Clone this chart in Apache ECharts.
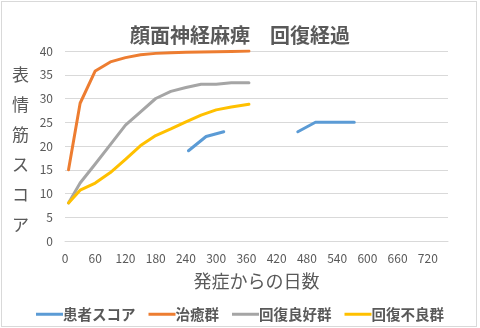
<!DOCTYPE html>
<html>
<head>
<meta charset="utf-8">
<script src="https://cdn.jsdelivr.net/npm/echarts@6/dist/echarts.min.js"></script>
<style>
  html, body { margin: 0; padding: 0; background: #fff; }
  #frame { position: absolute; left: 1px; top: 1px; width: 474px; height: 324px; border: 1px solid #d9d9d9; background: #fff; }
  #chart { position: absolute; left: -2px; top: -2px; width: 480px; height: 328px; }
</style>
</head>
<body>
<div id="frame"><div id="chart"></div></div>
<script>
// Facial nerve palsy: recovery of facial muscle score over days since onset
const seriesNames = ['患者スコア', '治癒群', '回復良好群', '回復不良群'];

// patient's own measurements (null separates the two visits)
const patientDays   = [245, 280, 315, 390, 462, 497, 574];
const patientScores = [19, 22, 23, null, 23, 25, 25];

// reference curves, shared time points
const groupDays = [7, 30, 60, 90, 120, 150, 180, 210, 240, 270, 300, 330, 365];
const curedScores = [15, 29, 35.8, 37.7, 38.6, 39.2, 39.5, 39.65, 39.75, 39.8, 39.85, 39.9, 40];
const goodScores  = [8, 12.2, 16.2, 20.3, 24.4, 27.2, 30, 31.5, 32.3, 33, 33, 33.3, 33.3];
const poorScores  = [8, 10.7, 12.2, 14.4, 17.2, 20.1, 22.2, 23.6, 25.1, 26.5, 27.6, 28.2, 28.8];

const colors = ['#5b9bd5', '#ed7d31', '#a5a5a5', '#ffc000'];
const FONT = '"Noto Sans CJK JP", "Noto Sans", sans-serif';

function pairs(xs, ys) {
  return xs.map((x, i) => [x, ys[i] === null ? '-' : ys[i]]);
}

const chart = echarts.init(document.getElementById('chart'), null, { renderer: 'canvas' });

const lineSeries = (name, data, color) => ({
  name: name,
  type: 'line',
  data: data,
  symbol: 'none',
  smooth: false,
  connectNulls: false,
  lineStyle: { color: color, width: 3, cap: 'round', join: 'round' },
  itemStyle: { color: color },
  emphasis: { disabled: true },
  animation: false
});

chart.setOption({
  animation: false,
  color: colors,
  textStyle: { fontFamily: FONT },
  title: {
    text: '顔面神経麻痺　回復経過',
    left: 'center',
    top: 20,
    textStyle: { fontFamily: FONT, fontSize: 20, fontWeight: 'bold', color: '#595959' }
  },
  grid: { left: 65, right: 32, top: 51, bottom: 87, containLabel: false },
  xAxis: {
    type: 'value',
    min: 0,
    max: 760,
    interval: 60,
    name: '発症からの日数',
    nameLocation: 'middle',
    nameGap: 31,
    nameTextStyle: { fontFamily: FONT, fontSize: 18, color: '#595959' },
    axisLine: { show: true, lineStyle: { color: '#d9d9d9', width: 1 } },
    axisTick: { show: false },
    splitLine: { show: false },
    axisLabel: { color: '#595959', fontSize: 12, margin: 11, showMaxLabel: false, fontFamily: FONT }
  },
  yAxis: {
    type: 'value',
    min: 0,
    max: 40,
    interval: 5,
    axisLine: { show: false },
    axisTick: { show: false },
    splitLine: { show: true, lineStyle: { color: '#d9d9d9', width: 1 } },
    axisLabel: { color: '#595959', fontSize: 12, margin: 12, fontFamily: FONT }
  },
  legend: {
    data: seriesNames,
    left: 'center',
    top: 302,
    icon: 'rect',
    itemWidth: 27,
    itemHeight: 3,
    itemGap: 13,
    selectedMode: false,
    textStyle: { fontFamily: FONT, fontSize: 14.5, fontWeight: 'bold', color: '#595959', padding: [0, 0, 0, -5] }
  },
  graphic: [{
    type: 'text',
    left: 12,
    top: 60,
    style: {
      text: '表\n情\n筋\nス\nコ\nア',
      font: '17px ' + FONT,
      fill: '#595959',
      lineHeight: 30,
      textAlign: 'left'
    }
  }],
  series: [
    lineSeries(seriesNames[0], pairs(patientDays, patientScores), colors[0]),
    lineSeries(seriesNames[1], pairs(groupDays, curedScores), colors[1]),
    lineSeries(seriesNames[2], pairs(groupDays, goodScores), colors[2]),
    lineSeries(seriesNames[3], pairs(groupDays, poorScores), colors[3])
  ]
});
</script>
</body>
</html>
